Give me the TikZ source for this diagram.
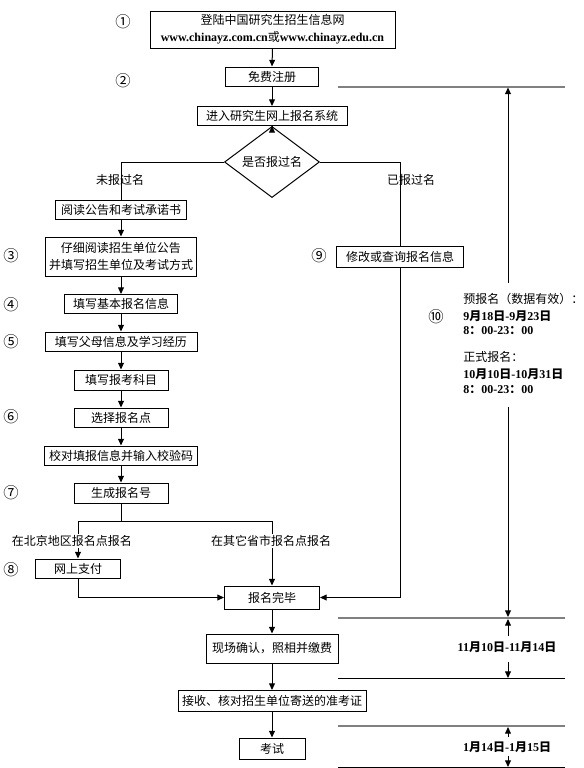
\documentclass[tikz,border=0pt]{standalone}
\usepackage{fontspec}
\setmainfont{Noto Sans CJK SC}
\newfontfamily\tnr{Liberation Serif}
\usetikzlibrary{shapes.geometric,arrows.meta}
\newcommand\lat[1]{{\tnr\bfseries #1}}
\newcommand\fs{\fontsize{9}{13}\selectfont}
\newcommand\bx[6]{\node[box,minimum width={#4*0.75pt},minimum height={#5*0.75pt}] (#1) at (#2,#3) {#6};}
\tikzset{
  box/.style={draw, line width=0.75pt, inner sep=0pt, align=center, font=\fs},
  arr/.style={-{Triangle[length=5pt,width=4.4pt]}, line width=0.75pt},
  ln/.style={line width=0.75pt},
  gline/.style={line width=1.5pt, black!50},
  bline/.style={line width=0.75pt},
  num/.style={font=\fontsize{11.5}{12}\selectfont, inner sep=0pt},
  lbl/.style={font=\fs, inner sep=1pt},
  rt/.style={font=\fs, inner sep=0pt, anchor=west},
}
\begin{document}
\begin{tikzpicture}[x=0.75pt,y=-0.75pt]
\useasboundingbox (0,0) rectangle (583,768);
% main column
\bx{n1}{272.5}{29.5}{245}{37}{登陆中国研究生招生信息网\\\lat{www.chinayz.com.cn}或\lat{www.chinayz.edu.cn}}
\bx{n2}{272}{76.5}{93}{19}{免费注册}
\bx{n3}{272}{116}{150}{19}{进入研究生网上报名系统}
\node[draw, diamond, line width=0.75pt, inner sep=0pt, minimum width={95*0.75pt}, minimum height={39*0.75pt}, font=\fs] (d) at (272,162) {是否报过名};
\bx{n4}{121}{210}{131}{19}{阅读公告和考试承诺书}
\bx{n5}{121}{256.5}{151}{39}{仔细阅读招生单位公告\\并填写招生单位及考试方式}
\bx{n9}{400}{256.5}{127}{21}{修改或查询报名信息}
\bx{n6}{121}{304}{113}{19}{填写基本报名信息}
\bx{n7}{121}{341.5}{152}{19}{填写父母信息及学习经历}
\bx{n8}{121}{380}{94}{20}{填写报考科目}
\bx{n10}{121}{417.5}{94}{19}{选择报名点}
\bx{n11}{121}{455.5}{153}{19}{校对填报信息并输入校验码}
\bx{n12}{121}{493}{94}{20}{生成报名号}
\bx{n13}{78}{568.5}{85}{19}{网上支付}
\bx{n14}{272}{597.5}{95}{23}{报名完毕}
\bx{n15}{272}{648.5}{132}{29}{现场确认，照相并缴费}
\bx{n16}{272}{701}{188}{21}{接收、核对招生单位寄送的准考证}
\bx{n17}{272}{748.5}{66}{21}{考试}
% connectors
\draw[arr] (n1.south) -- (n2.north);
\draw[arr] (n2.south) -- (n3.north);
\draw[arr] (n3.south) -- (d.north);
\draw[ln] (d.west) -| (n4.north);
\draw[ln] (d.east) -| (n9.north);
\draw[arr] (n4.south) -- (n5.north);
\draw[arr] (n5.south) -- (n6.north);
\draw[arr] (n6.south) -- (n7.north);
\draw[arr] (n7.south) -- (n8.north);
\draw[arr] (n8.south) -- (n10.north);
\draw[arr] (n10.south) -- (n11.north);
\draw[arr] (n11.south) -- (n12.north);
\coordinate (br) at (121,521);
\coordinate (brl) at (78,521);
\coordinate (brr) at (272,521);
\draw[ln] (n12.south) -- (br);
\draw[ln] (brl) -- (brr);
\draw[arr] (brl) -- (n13.north);
\draw[arr] (brr) -- (n14.north);
\draw[arr] (n13.south) |- (n14.west);
\draw[arr] (n9.south) |- (n14.east);
\draw[arr] (n14.south) -- (n15.north);
\draw[arr] (n15.south) -- (n16.north);
\draw[arr] (n16.south) -- (n17.north);
% branch labels
\node[lbl] (l1) at (120,180) {未报过名};
\node[lbl] (l2) at (411,180) {已报过名};
\node[lbl, fill=white] (l3) at (72,541) {在北京地区报名点报名};
\node[lbl, fill=white] (l4) at (271,541) {在其它省市报名点报名};
% step numbers
\node[num] (c1) at (123,22) {①};
\node[num] (c2) at (123,81) {②};
\node[num] (c3) at (11,256) {③};
\node[num] (c4) at (11,305) {④};
\node[num] (c5) at (11,342) {⑤};
\node[num] (c6) at (11,417) {⑥};
\node[num] (c7) at (11,493) {⑦};
\node[num] (c8) at (11,570) {⑧};
\node[num] (c9) at (319,256) {⑨};
\node[num] (c10) at (436,317) {⑩};
% timeline lines
\coordinate (h1a) at (338,87);  \coordinate (h1b) at (565,87);
\coordinate (h2a) at (338,618); \coordinate (h2b) at (565,618);
\coordinate (h3a) at (338,678); \coordinate (h3b) at (565,678);
\coordinate (h4a) at (338,726); \coordinate (h4b) at (565,726);
\coordinate (h5a) at (338,767); \coordinate (h5b) at (565,767);
\draw[gline] (h1a) -- (h1b);
\draw[gline] (h2a) -- (h2b);
\draw[bline] (h3a) -- (h3b);
\draw[gline] (h4a) -- (h4b);
\draw[bline] (h5a) -- (h5b);
% timeline text
\node[rt] (r1) at (463,298.5) {预报名（数据有效）：};
\node[rt] (r2) at (463,316) {\bfseries\lat{9}月\lat{18}日\lat{-9}月\lat{23}日};
\node[rt] (r3) at (463,330.5) {\bfseries\lat{8}：\lat{00-23}：\lat{00}};
\node[rt] (r4) at (463,357) {正式报名：};
\node[rt] (r5) at (463,374) {\bfseries\lat{10}月\lat{10}日\lat{-10}月\lat{31}日};
\node[rt] (r6) at (463,390) {\bfseries\lat{8}：\lat{00-23}：\lat{00}};
\node[lbl, inner sep=0pt] (r7) at (507,647) {\bfseries\lat{11}月\lat{10}日\lat{-11}月\lat{14}日};
\node[lbl, inner sep=0pt] (r8) at (507,747) {\bfseries\lat{1}月\lat{14}日\lat{-1}月\lat{15}日};
% timeline arrows
\coordinate (v1) at (508,283); \coordinate (v1e) at (508,87.5);
\coordinate (v2) at (508,407); \coordinate (v2e) at (508,617);
\coordinate (v3) at (508,636); \coordinate (v3e) at (508,619);
\coordinate (v4) at (508,662); \coordinate (v4e) at (508,678);
\coordinate (v5) at (508,737); \coordinate (v5e) at (508,727);
\coordinate (v6) at (508,756); \coordinate (v6e) at (508,767);
\draw[arr] (v1) -- (v1e);
\draw[arr] (v2) -- (v2e);
\draw[arr] (v3) -- (v3e);
\draw[arr] (v4) -- (v4e);
\draw[arr] (v5) -- (v5e);
\draw[arr] (v6) -- (v6e);
\end{tikzpicture}
\end{document}
